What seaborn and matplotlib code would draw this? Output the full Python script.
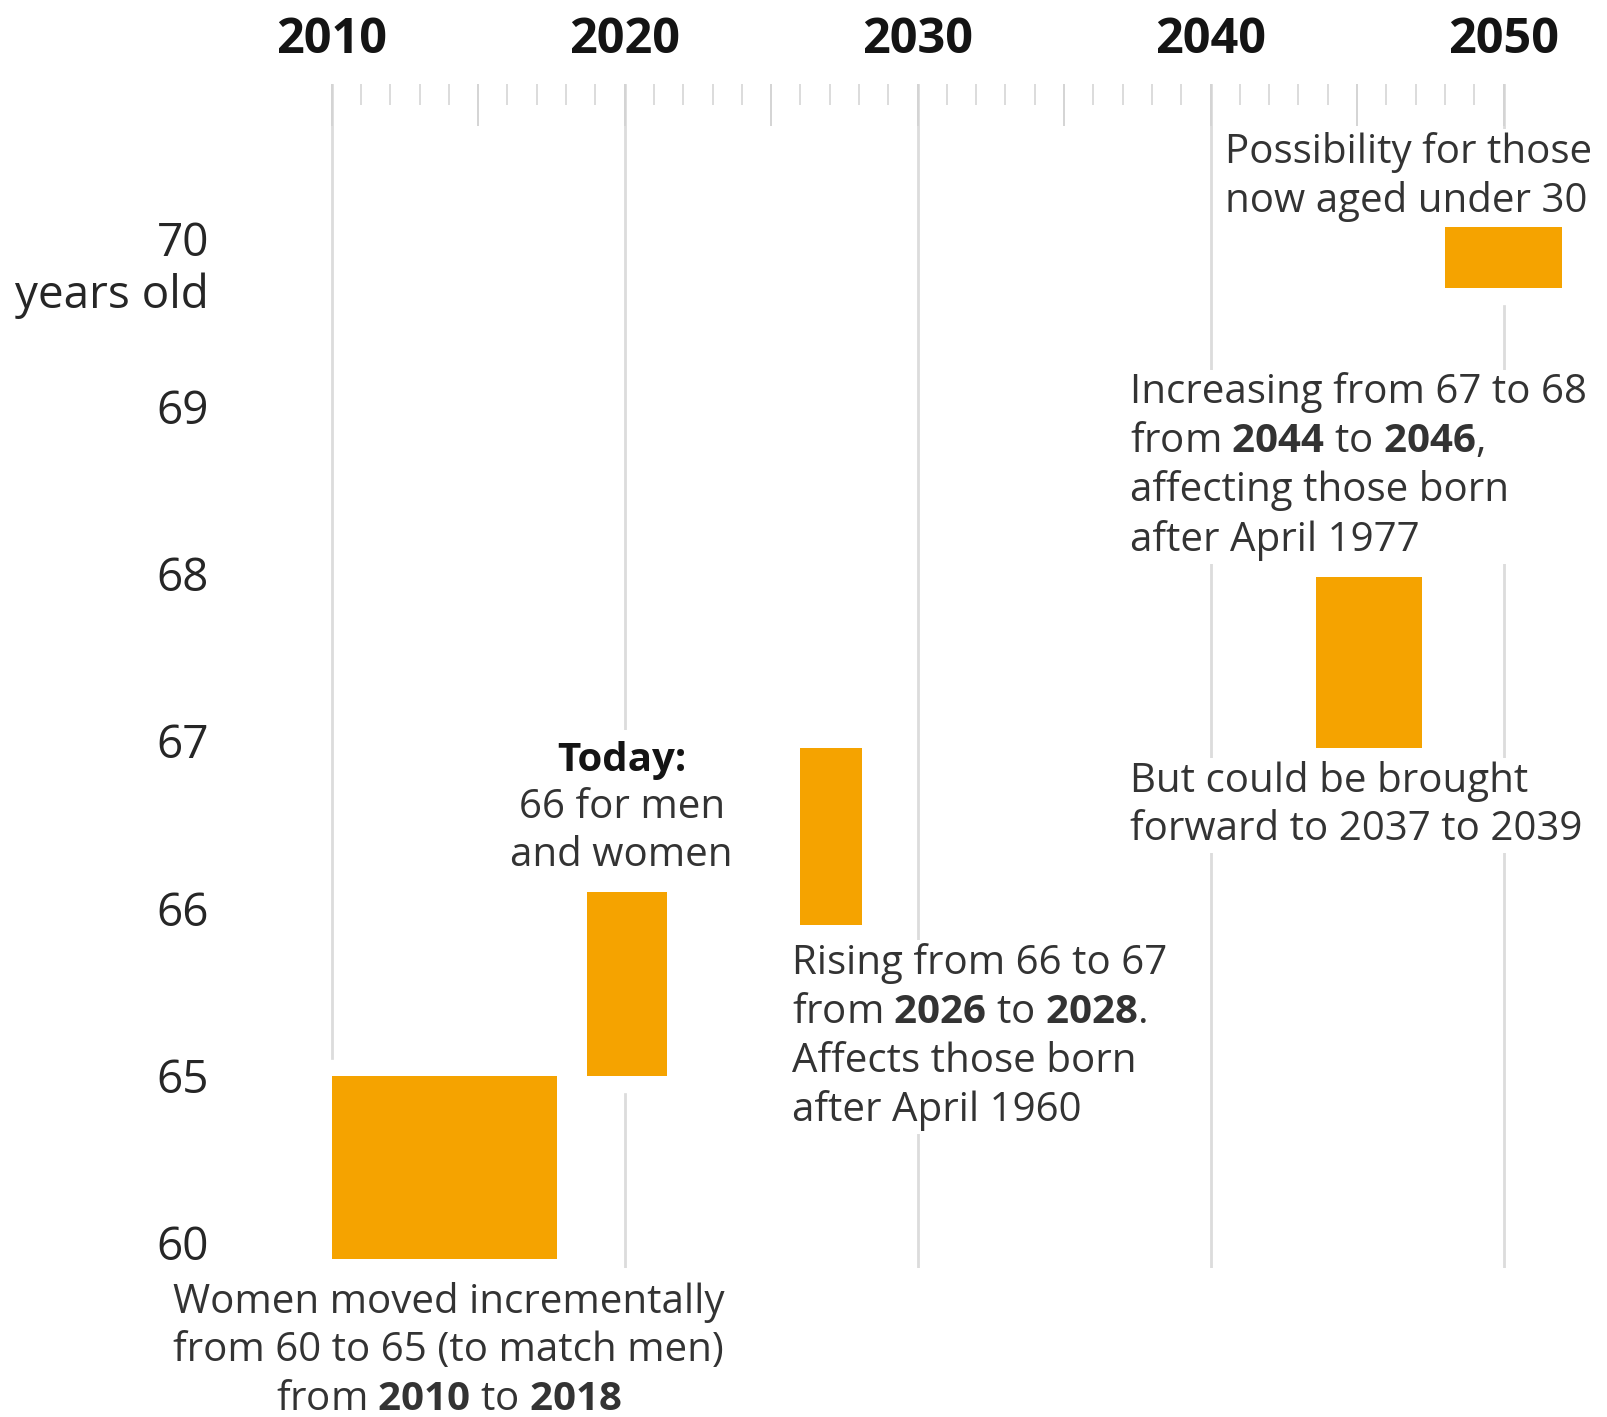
import numpy as np
import matplotlib
matplotlib.use('Agg')
import matplotlib.pyplot as plt
import matplotlib.patheffects as pe
import seaborn as sns

# data
age_levels = [60, 65, 66, 67, 68, 69, 70]
year_ticks = [2010, 2020, 2030, 2040, 2050]

bar_start = [2010.0, 2018.7, 2026.0, 2043.6, 2048.0]
bar_end = [2017.7, 2021.45, 2028.1, 2047.2, 2052.0]
age_from = [59.53, 65.0, 65.9, 66.96, 69.71]
age_to = [65.0, 66.1, 66.96, 67.98, 70.07]

notes = [
    'Possibility for those\nnow aged under 30',
    'Increasing from 67 to 68\nfrom $\\mathbf{2044}$ to $\\mathbf{2046}$,\naffecting those born\nafter April 1977',
    'But could be brought\nforward to 2037 to 2039',
    'Rising from 66 to 67\nfrom $\\mathbf{2026}$ to $\\mathbf{2028}$.\nAffects those born\nafter April 1960',
    '66 for men\nand women',
    'Women moved incrementally\nfrom 60 to 65 (to match men)\nfrom $\\mathbf{2010}$ to $\\mathbf{2018}$',
]
note_x = [2040.5, 2037.25, 2037.25, 2025.7, 2019.9, 2014.0]
note_age = [70.37, 68.64, 66.615, 65.23, 66.457, 56.78]
note_ha = ['left', 'left', 'left', 'left', 'center', 'center']

today_head = 'Today:'
today_x = 2019.9
today_age = 66.884

ORANGE = '#f5a300'
GRID = '#dcdcdc'
TXT = '#333333'

sns.set_style('white')
plt.rcParams['font.family'] = ['Open Sans', 'DejaVu Sans']
plt.rcParams['mathtext.fontset'] = 'custom'
plt.rcParams['mathtext.rm'] = 'Open Sans'
plt.rcParams['mathtext.bf'] = 'Open Sans:bold'


def to_pos(age):
    # ages are drawn on an uneven scale: one step per listed level
    lv = [55] + age_levels + [71]
    ix = [-1] + list(range(len(age_levels))) + [len(age_levels)]
    return np.interp(age, lv, ix)


fig = plt.figure(figsize=(16.07, 14.17), dpi=100)
ax = fig.add_axes([0.1369, 0.1052, 0.8631, 0.8355])
ax.set_xlim(2006.19, 2053.53)
ax.set_ylim(-0.149, 6.926)

for yr in year_ticks:
    ax.axvline(yr, color=GRID, lw=2, zorder=0.5)

lo = to_pos(np.array(age_from))
hi = to_pos(np.array(age_to))
bars = ax.bar(bar_start, hi - lo, width=np.array(bar_end) - np.array(bar_start),
              bottom=lo, align='edge', color=ORANGE, zorder=2, linewidth=0)
for b in bars:
    b.set_path_effects([pe.withStroke(linewidth=24, foreground='white')])

box = dict(facecolor='white', edgecolor='none', pad=2)
for txt, x, a, ha in zip(notes, note_x, note_age, note_ha):
    ax.text(x, to_pos(a), txt, ha=ha, va='center',
            multialignment=ha, fontsize=29, color=TXT, linespacing=1.27,
            zorder=3, clip_on=False, bbox=box)

# heading drawn under the note so its larger white box only hides the grid
ax.text(today_x, to_pos(today_age), today_head, ha='center', va='center',
        fontsize=29, fontweight='bold', color='#141414', zorder=2.9,
        bbox=dict(facecolor='white', edgecolor='none', pad=8))

# top ruler
ax.xaxis.tick_top()
ax.set_xticks(np.arange(2010, 2051, 5),
              [str(y) if y % 10 == 0 else '' for y in range(2010, 2051, 5)])
ax.set_xticks(np.arange(2010, 2051, 1), minor=True)
ax.tick_params(axis='x', which='major', direction='in', length=30, width=1.4,
               color='#d4d4d4', pad=14, labelsize=35, labelcolor='#141414')
ax.tick_params(axis='x', which='minor', direction='in', length=15, width=1.3,
               color='#d9d9d9')
for lab in ax.get_xticklabels():
    lab.set_fontweight('bold')

ax.set_yticks(range(len(age_levels)), [str(a) for a in age_levels])
ax.tick_params(axis='y', length=0, pad=8, labelsize=33, labelcolor='#262626')
ax.annotate('years old', xy=(0, 6), xycoords=('axes fraction', 'data'),
            xytext=(-8, -41), textcoords='offset points', ha='right', va='center',
            fontsize=33, color='#262626', annotation_clip=False)

sns.despine(ax=ax, left=True, bottom=True, top=True, right=True)
ax.grid(False)

fig.savefig('out.png', dpi=100, facecolor='white')
